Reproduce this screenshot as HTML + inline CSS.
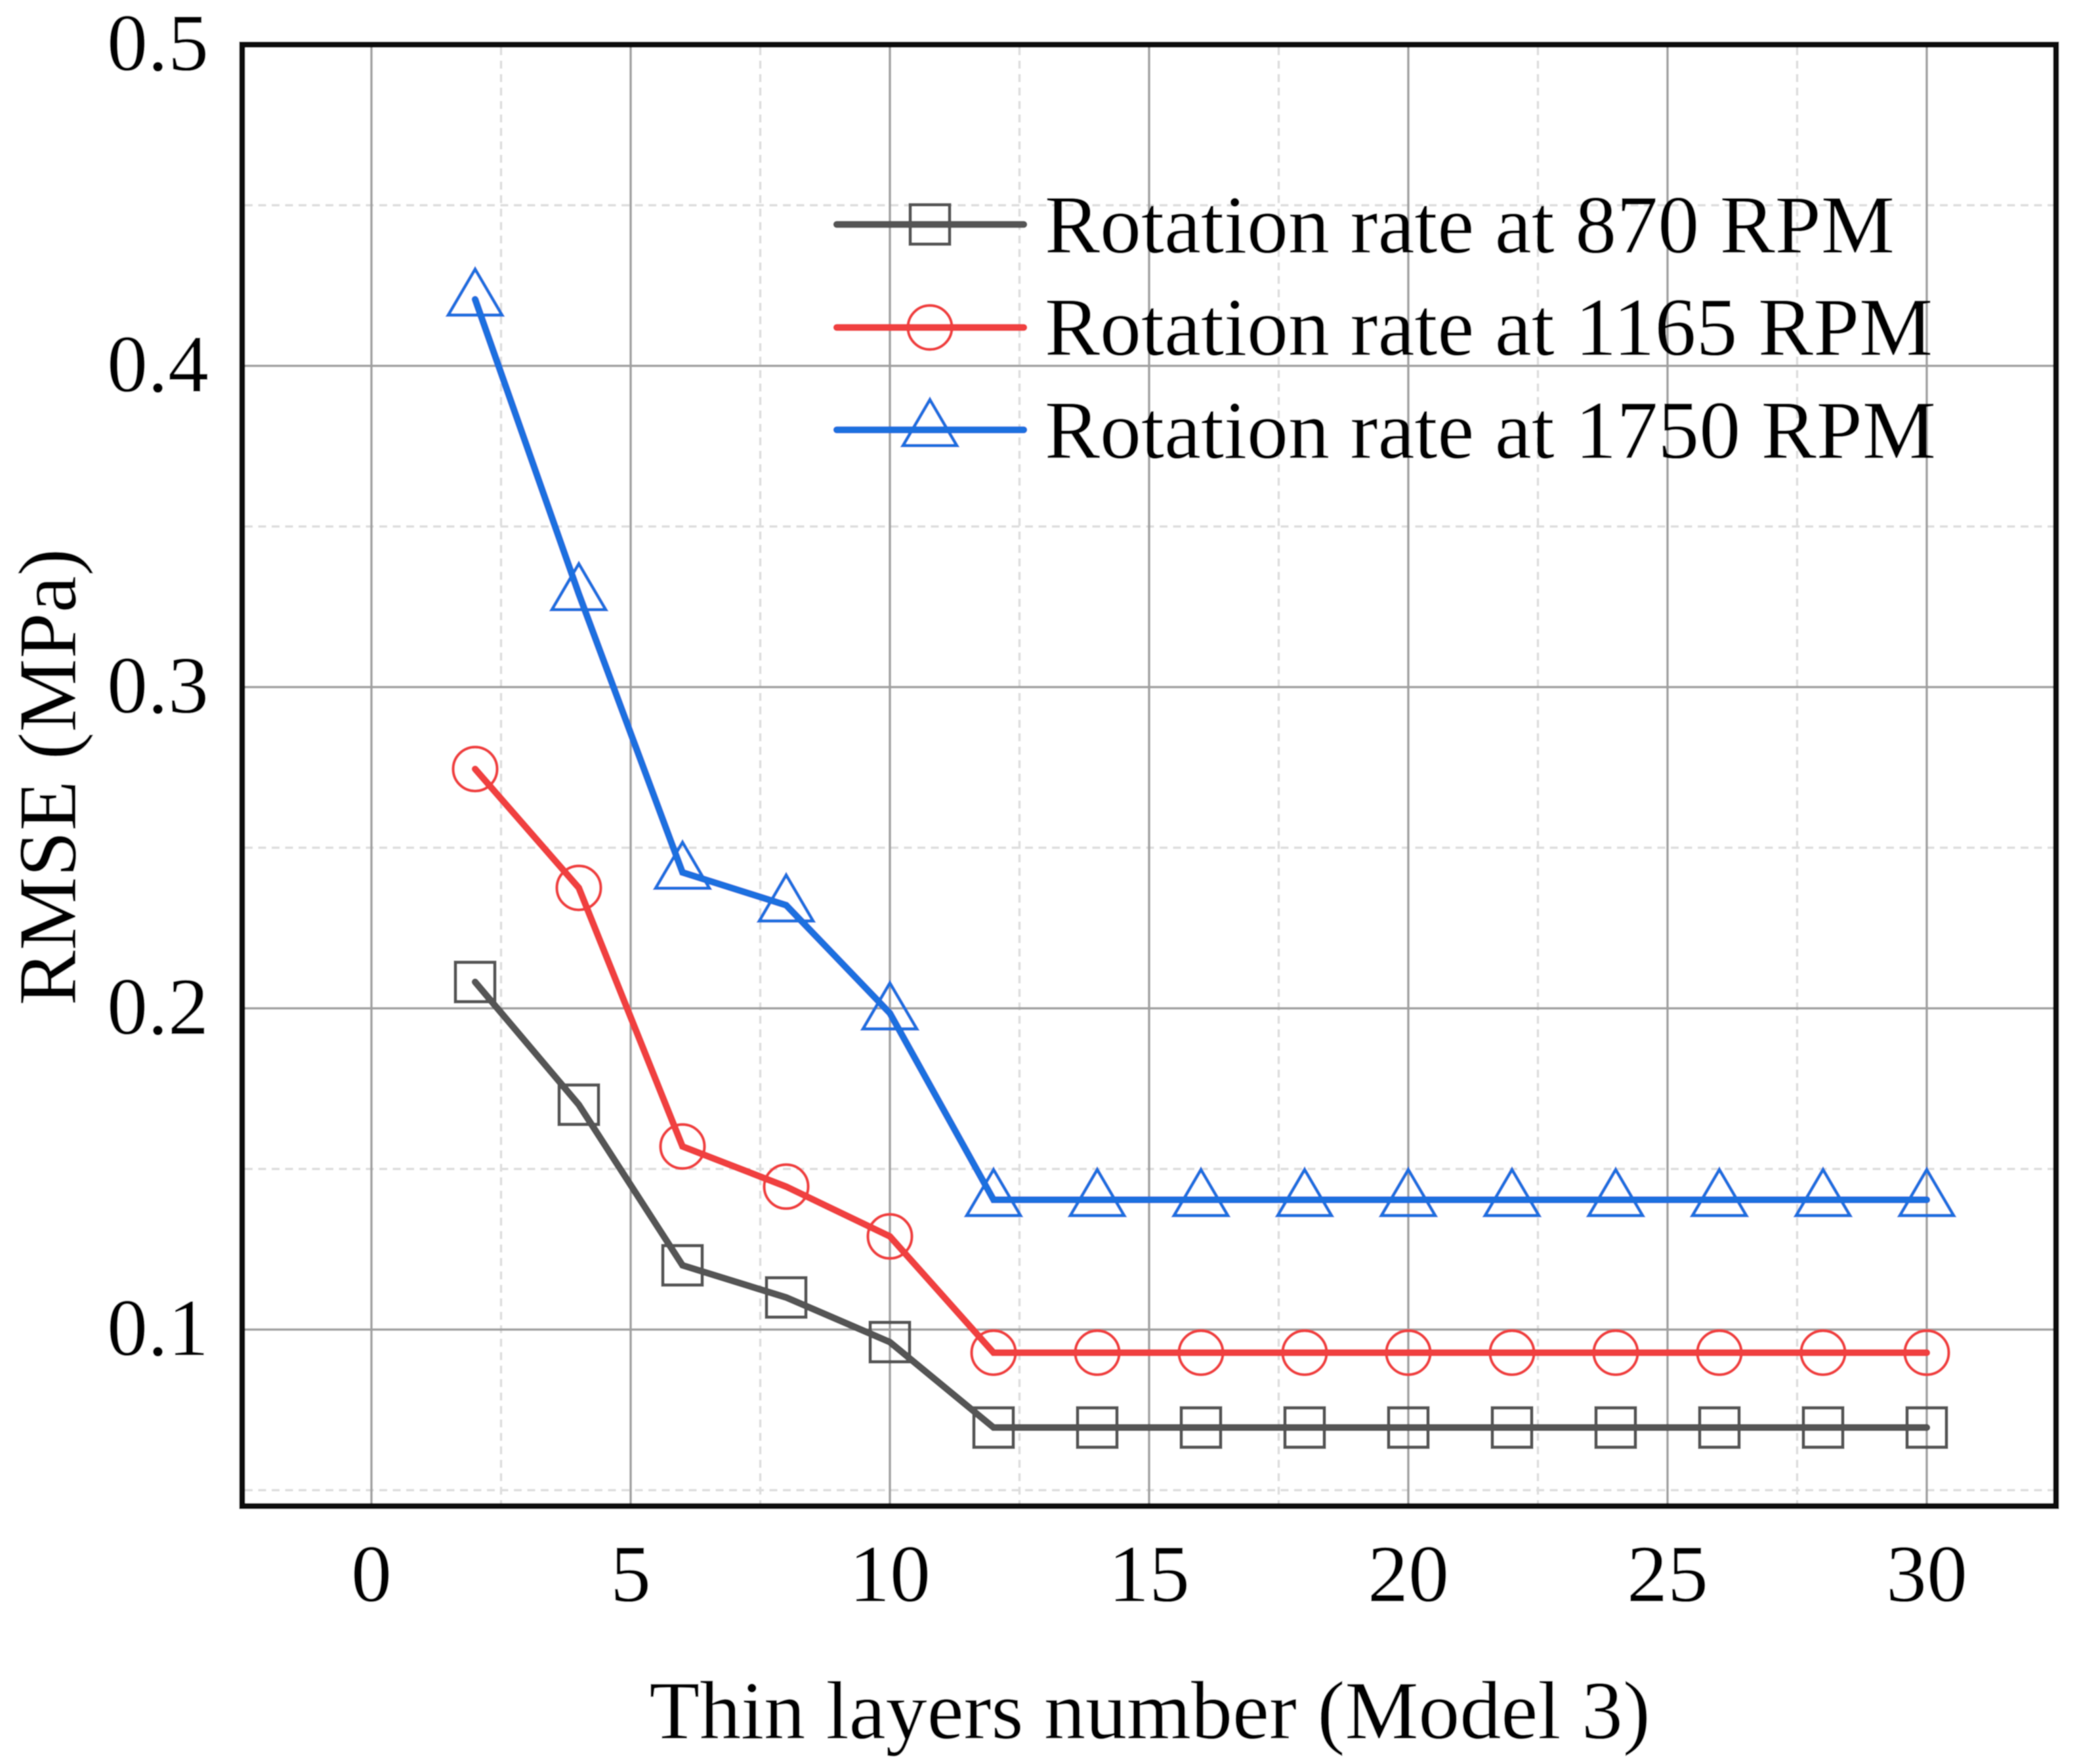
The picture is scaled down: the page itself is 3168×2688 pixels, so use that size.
<!DOCTYPE html>
<html>
<head>
<meta charset="utf-8">
<title>RMSE vs thin layers number</title>
<style>
html,body{margin:0;padding:0;background:#fff;}
svg{display:block;}
text{font-family:"Liberation Serif",serif;fill:#000;}
</style>
</head>
<body>
<svg id="chart" width="3168" height="2688" viewBox="0 0 3168 2688" xmlns="http://www.w3.org/2000/svg">
  <defs><filter id="soft" x="-5%" y="-5%" width="110%" height="110%"><feGaussianBlur stdDeviation="0.9"/></filter></defs>
  <g id="root" filter="url(#soft)">
    <rect x="0" y="0" width="3168" height="2688" fill="#fff"/>
    <g id="grid"></g>
    <g id="series"></g>
    <rect x="369" y="68" width="2764" height="2227" fill="none" stroke="#0a0a0a" stroke-width="9"/>
    <g id="ticks"></g>
    <text x="1752" y="2649" font-size="126" text-anchor="middle">Thin layers number (Model 3)</text>
    <text transform="translate(115,1184) rotate(-90)" font-size="126" text-anchor="middle">RMSE (MPa)</text>
    <g id="legend"></g>
  </g>
</svg>
<script>
const xValues = [2,4,6,8,10,12,14,16,18,20,22,24,26,28,30];
const series870 = [0.2082,0.170,0.120,0.110,0.0961,0.0695,0.0695,0.0695,0.0695,0.0695,0.0695,0.0695,0.0695,0.0695,0.0695];
const series1165 = [0.2745,0.2375,0.157,0.1445,0.129,0.0928,0.0928,0.0928,0.0928,0.0928,0.0928,0.0928,0.0928,0.0928,0.0928];
const series1750 = [0.4207,0.329,0.2423,0.2321,0.1985,0.1404,0.1404,0.1404,0.1404,0.1404,0.1404,0.1404,0.1404,0.1404,0.1404];
const xTicks = [0,5,10,15,20,25,30];
const yTicks = [0.1,0.2,0.3,0.4,0.5];
const xMinorTicks = [2.5,7.5,12.5,17.5,22.5,27.5];
const yMinorTicks = [0.05,0.15,0.25,0.35,0.45];
const legendLabels = ['Rotation rate at 870 RPM','Rotation rate at 1165 RPM','Rotation rate at 1750 RPM'];

const NS = 'http://www.w3.org/2000/svg';
const X = v => 566 + v * 79;
const Y = v => 2026 - (v - 0.1) * 4895;
const PL = 373, PR = 3129, PT = 72, PB = 2291;

function mk(parent, tag, attrs, name) {
  const el = document.createElementNS(NS, tag);
  for (const k in attrs) el.setAttribute(k, attrs[k]);
  
  
  parent.appendChild(el);
  return el;
}
function square(parent, cx, cy, color, name) {
  mk(parent, 'rect', {x: cx - 30, y: cy - 30, width: 60, height: 60, fill: 'none', stroke: color, 'stroke-width': 5}, name);
}
function circle(parent, cx, cy, color, name) {
  mk(parent, 'circle', {cx: cx, cy: cy, r: 33.5, fill: 'none', stroke: color, 'stroke-width': 4.5}, name);
}
function triangle(parent, cx, cy, color, name) {
  mk(parent, 'polygon', {points: (cx) + ',' + (cy - 46) + ' ' + (cx + 41) + ',' + (cy + 24) + ' ' + (cx - 41) + ',' + (cy + 24), fill: 'none', stroke: color, 'stroke-width': 5, 'stroke-linejoin': 'miter'}, name);
}

const grid = document.getElementById('grid');
xMinorTicks.forEach(v => mk(grid, 'line', {x1: X(v), x2: X(v), y1: PT, y2: PB, stroke: '#dedede', 'stroke-width': 3.5, 'stroke-dasharray': '12 8.5'}, 'minor-gridline-x'));
yMinorTicks.forEach(v => mk(grid, 'line', {x1: PL, x2: PR, y1: Y(v), y2: Y(v), stroke: '#dedede', 'stroke-width': 3.5, 'stroke-dasharray': '12 8.5'}, 'minor-gridline-y'));
xTicks.forEach(v => mk(grid, 'line', {x1: X(v), x2: X(v), y1: PT, y2: PB, stroke: '#a0a0a0', 'stroke-width': 3.5}, 'major-gridline-x'));
yTicks.forEach(v => mk(grid, 'line', {x1: PL, x2: PR, y1: Y(v), y2: Y(v), stroke: '#a0a0a0', 'stroke-width': 3.5}, 'major-gridline-y'));

const ticks = document.getElementById('ticks');
xTicks.forEach(v => {
  const t = mk(ticks, 'text', {x: X(v), y: 2440, 'font-size': 124, 'text-anchor': 'middle'}, 'x-tick-label');
  t.textContent = String(v);
});
yTicks.forEach(v => {
  const t = mk(ticks, 'text', {x: 318, y: Y(v) + 39, 'font-size': 124, 'text-anchor': 'end'}, 'y-tick-label');
  t.textContent = v.toFixed(1);
});

const seriesGroup = document.getElementById('series');
function drawSeries(values, color, marker, name) {
  const g = mk(seriesGroup, 'g', {}, name);
  const pts = values.map((v, i) => X(xValues[i]) + ',' + Y(v)).join(' ');
  mk(g, 'polyline', {points: pts, fill: 'none', stroke: color, 'stroke-width': 10.5, 'stroke-linejoin': 'miter', 'stroke-linecap': 'round'}, name + '-line');
  values.forEach((v, i) => marker(g, X(xValues[i]), Y(v), color, name + '-marker'));
}
drawSeries(series870, '#555555', square, 'series-870-rpm');
drawSeries(series1165, '#f04040', circle, 'series-1165-rpm');
drawSeries(series1750, '#1a6fdf', triangle, 'series-1750-rpm');

const legend = document.getElementById('legend');
const legendColors = ['#555555', '#f04040', '#1a6fdf'];
const legendMarkers = [square, circle, triangle];
const legendLineY = [342, 499, 655];
const legendBaseY = [385, 541, 698];
legendLabels.forEach((label, i) => {
  const g = mk(legend, 'g', {}, 'legend-entry');
  mk(g, 'line', {x1: 1275, x2: 1560, y1: legendLineY[i], y2: legendLineY[i], stroke: legendColors[i], 'stroke-width': 10.5, 'stroke-linecap': 'round'}, 'legend-line');
  legendMarkers[i](g, 1417, legendLineY[i], legendColors[i], 'legend-marker');
  const t = mk(g, 'text', {x: 1592, y: legendBaseY[i], 'font-size': 126}, 'legend-label');
  t.textContent = label;
});
</script>
</body>
</html>
